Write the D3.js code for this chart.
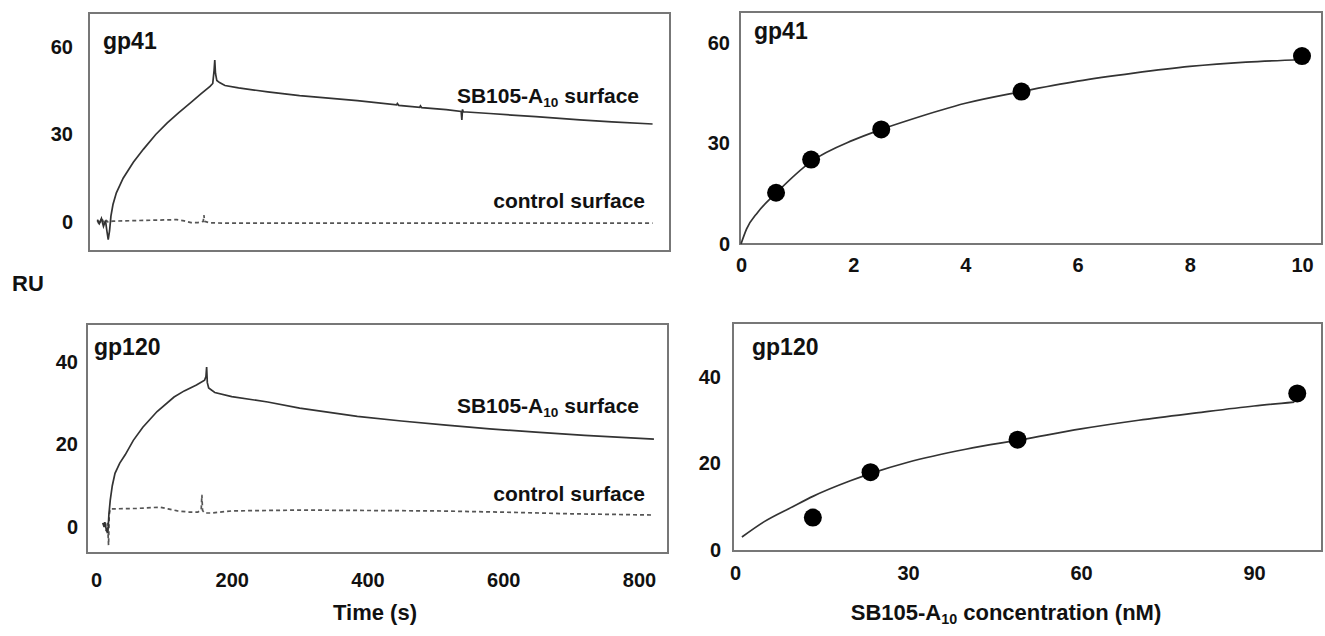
<!DOCTYPE html>
<html>
<head>
<meta charset="utf-8">
<script src="https://cdn.jsdelivr.net/npm/d3@7"></script>
<style>
  body { margin: 0; background: #fff; }
  text { font-family: "Liberation Sans", Arial, sans-serif; font-weight: bold; fill: #111; }
</style>
</head>
<body>
<svg id="chart" width="1325" height="636"></svg>
<script>
// sensorgram tick labels
var timeTicks = [0, 200, 400, 600, 800];
var gp41Ticks = [0, 30, 60];
var gp120Ticks = [0, 20, 40];
var conc41Ticks = [0, 2, 4, 6, 8, 10];
var conc120Ticks = [0, 30, 60, 90];

// gp41 sensorgram [time s, RU]
var gp41Surface = [[2,0.8],[5,-0.5],[8,1.2],[11,-1.5],[14,0.5],[16,-3],[18,-6],[20,-3],[22,2],[25,6],[30,10],[40,15],[55,20.5],[70,25],[88,30],[105,34],[122,37.5],[140,41],[155,44],[168,46.5],[172,47.5],[174,52],[175,55.5],[176,51],[178,48.5],[182,47.8],[190,46.8],[210,46],[253,44.6],[300,43.3],[385,41.6],[443,40.2],[444,40.6],[446,40],[477,39.3],[478,39.8],[480,39.2],[516,38.5],[538,37.9],[539,35],[540,38.6],[541,37.8],[580,37.2],[648,36.1],[713,35],[760,34.3],[820,33.6]];
var gp41Control = [[2,0.5],[5,-1],[8,1.5],[12,-0.5],[15,0.5],[18,0],[25,0.3],[60,0.5],[100,0.7],[119,0.8],[130,0.4],[140,-0.2],[150,-0.2],[158,0.2],[159,2.4],[160,0.2],[168,-0.3],[200,-0.4],[400,-0.4],[600,-0.4],[820,-0.4]];

// gp120 sensorgram [time s, RU]
var gp120Surface = [[10,1],[12,0],[13,1.2],[15,-0.5],[17,-1.5],[18,0],[19,3],[21,6.5],[24,10],[28,13],[35,15.5],[43,17.5],[55,21],[69,24.2],[90,28],[115,31.5],[130,33],[148,34.4],[160,35.6],[162,36.5],[163,38.8],[164,35],[166,33.7],[175,32.6],[200,31.6],[253,30.3],[300,28.8],[385,26.8],[450,25.7],[516,24.7],[580,23.8],[648,23],[720,22.2],[822,21.3]];
var gp120Control = [[13,1],[15,-1],[17,1],[18.5,-4.4],[19.5,3],[21,4.4],[25,4.4],[60,4.5],[94,4.8],[106,4.4],[120,3.9],[138,3.6],[150,3.6],[155,4.2],[156,7.8],[157,4],[160,3.4],[170,3.4],[200,3.9],[300,4.1],[400,4],[500,3.9],[600,3.6],[700,3.2],[822,2.9]];

// binding vs concentration
var gp41Conc = [0.625, 1.25, 2.5, 5, 10];
var gp41RU = [15.3, 25.2, 34.2, 45.5, 56.1];
var gp41Fit = [[0,0],[0.1,4.5],[0.3,9.5],[0.625,15.2],[1.25,24.6],[2,31],[2.5,34.2],[3,37],[4,42],[5,45.5],[6,48.6],[7,51],[8,53],[9,54.3],[10,55]];

var gp120Conc = [13.5, 23.5, 49, 97.5];
var gp120RU = [7.5, 18, 25.5, 36.2];
var gp120Fit = [[1.2,3],[5,6.5],[10,10],[13.5,12.4],[20,16],[24,17.9],[30,20.3],[40,23.3],[50,25.6],[60,28],[70,30],[80,31.7],[90,33.3],[97,34.2]];

var svg = d3.select('#chart');

var xTime = d3.scaleLinear().domain([0, 800]).range([96, 639]);
var yGp41 = d3.scaleLinear().domain([0, 60]).range([222, 47]);
var yGp120 = d3.scaleLinear().domain([0, 40]).range([527, 362]);
var xConc41 = d3.scaleLinear().domain([0, 10]).range([741, 1302]);
var yBind41 = d3.scaleLinear().domain([0, 60]).range([244, 43]);
var xConc120 = d3.scaleLinear().domain([0, 90]).range([735, 1254]);
var yBind120 = d3.scaleLinear().domain([0, 40]).range([550, 377]);

function frame(x, y, w, h) {
  svg.append('rect')
    .attr('x', x).attr('y', y)
    .attr('width', w).attr('height', h)
    .attr('fill', 'none')
    .attr('stroke', '#777')
    .attr('stroke-width', 2);
}

function yAxis(scale, ticks, xRight) {
  var g = svg.append('g')
    .attr('transform', 'translate(' + xRight + ',0)')
    .call(d3.axisLeft(scale).tickValues(ticks).tickSize(0).tickPadding(0));
  g.select('.domain').remove();
  g.selectAll('text').style('font-size', '20px').attr('fill', '#111')
    .style('font-family', '"Liberation Sans", Arial, sans-serif').style('font-weight', 'bold');
}

function xAxis(scale, ticks, yTop) {
  var g = svg.append('g')
    .attr('transform', 'translate(0,' + yTop + ')')
    .call(d3.axisBottom(scale).tickValues(ticks).tickSize(0).tickPadding(0));
  g.select('.domain').remove();
  g.selectAll('text').style('font-size', '20px').attr('fill', '#111')
    .style('font-family', '"Liberation Sans", Arial, sans-serif').style('font-weight', 'bold');
}

function trace(data, xs, ys, dashed, curve) {
  svg.append('path')
    .datum(data)
    .attr('d', d3.line().x(d => xs(d[0])).y(d => ys(d[1])).curve(curve || d3.curveLinear))
    .attr('fill', 'none')
    .attr('stroke', dashed ? '#555' : '#333')
    .attr('stroke-width', 1.7)
    .attr('stroke-dasharray', dashed ? '4,3' : null);
}

function label(x, y, size, txt, anchor) {
  return svg.append('text')
    .attr('x', x).attr('y', y)
    .attr('text-anchor', anchor || 'start')
    .style('font-size', size + 'px')
    .text(txt);
}

// "SB105-A10 ..." with subscript
function sbLabel(x, y, size, rest, anchor) {
  var t = svg.append('text')
    .attr('x', x).attr('y', y)
    .attr('text-anchor', anchor || 'start')
    .style('font-size', size + 'px');
  t.append('tspan').text('SB105-A');
  t.append('tspan').attr('dy', 4).style('font-size', (size * 0.65) + 'px').text('10');
  t.append('tspan').attr('dy', -4).text(rest);
  return t;
}

// frames
frame(89, 13, 581, 238);
frame(87, 324, 581, 229);
frame(740, 12, 582, 232);
frame(733, 323, 589, 228);

// sensorgrams
trace(gp41Control, xTime, yGp41, true);
trace(gp41Surface, xTime, yGp41, false);
trace(gp120Control, xTime, yGp120, true);
trace(gp120Surface, xTime, yGp120, false);

// saturation curves
trace(gp41Fit, xConc41, yBind41, false, d3.curveMonotoneX);
trace(gp120Fit, xConc120, yBind120, false, d3.curveMonotoneX);

svg.append('g').selectAll('circle')
  .data(gp41Conc)
  .enter().append('circle')
  .attr('cx', d => xConc41(d))
  .attr('cy', (d, i) => yBind41(gp41RU[i]))
  .attr('r', 9)
  .attr('fill', '#000');

svg.append('g').selectAll('circle')
  .data(gp120Conc)
  .enter().append('circle')
  .attr('cx', d => xConc120(d))
  .attr('cy', (d, i) => yBind120(gp120RU[i]))
  .attr('r', 9)
  .attr('fill', '#000');

// axes
yAxis(yGp41, gp41Ticks, 73);
yAxis(yGp120, gp120Ticks, 78);
yAxis(yBind41, gp41Ticks, 730);
yAxis(yBind120, gp120Ticks, 721);
xAxis(xTime, timeTicks, 573);
xAxis(xConc41, conc41Ticks, 258);
xAxis(xConc120, conc120Ticks, 566);

// panel labels
label(103, 49, 23, 'gp41');
label(754, 39, 23, 'gp41');
label(94, 355, 23, 'gp120');
label(752, 355, 23, 'gp120');

sbLabel(639, 103, 21, ' surface', 'end');
label(645, 208, 21, 'control surface', 'end');
sbLabel(639, 413, 21, ' surface', 'end');
label(645, 501, 21, 'control surface', 'end');

label(12, 291, 22, 'RU');
label(375, 620, 22, 'Time (s)', 'middle');
sbLabel(1006, 620, 22, ' concentration (nM)', 'middle');
</script>
</body>
</html>
